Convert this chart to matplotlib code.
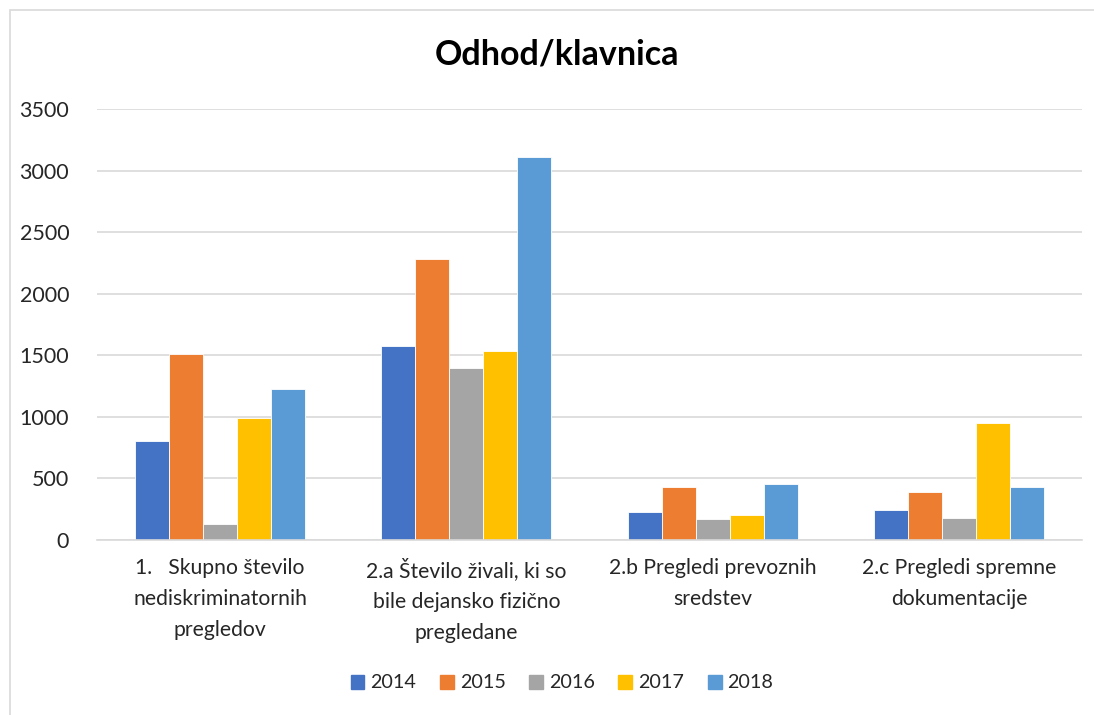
import matplotlib.pyplot as plt
import matplotlib.patches as mpatches
import numpy as np

plt.rcParams["font.family"] = ["Lato", "DejaVu Sans"]

categories = [
    "1.   Skupno število\nnediskriminatornih\npregledov",
    "2.a Število živali, ki so\nbile dejansko fizično\npregledane",
    "2.b Pregledi prevoznih\nsredstev",
    "2.c Pregledi spremne\ndokumentacije",
]
years = ["2014", "2015", "2016", "2017", "2018"]
values = {
    "2014": [800, 1573, 225, 244],
    "2015": [1513, 2279, 433, 387],
    "2016": [133, 1397, 171, 176],
    "2017": [993, 1535, 206, 953],
    "2018": [1229, 3113, 455, 428],
}
colors = ["#4472C4", "#ED7D31", "#A5A5A5", "#FFC000", "#5B9BD5"]

W, H = 1094, 715
fig = plt.figure(figsize=(W / 100, H / 100), dpi=100)
ax = fig.add_axes([97 / W, 1 - 540 / H, (1082 - 97) / W, (540 - 109) / H])

x = np.arange(len(categories))
bw = 0.138
for i, (yr, col) in enumerate(zip(years, colors)):
    ax.bar(x + (i - 2) * bw, values[yr], bw, color=col,
           edgecolor="white", linewidth=0.6, zorder=2, label=yr)

ax.set_xlim(-0.5, len(categories) - 0.5)
ax.set_ylim(0, 3500)
ax.set_yticks(np.arange(0, 3501, 500))
ax.yaxis.grid(True, color="#D9D9D9", linewidth=1.2, zorder=0)
ax.set_axisbelow(True)
for s in ["top", "right", "left"]:
    ax.spines[s].set_visible(False)
ax.spines["bottom"].set_color("#D9D9D9")
ax.spines["bottom"].set_linewidth(1.2)
ax.tick_params(axis="y", length=0, pad=20, labelsize=15.5, labelcolor="#262626")
ax.tick_params(axis="x", length=0, pad=13, labelsize=15.2, labelcolor="#262626")
ax.set_xticks(x)
ax.set_xticklabels(categories, linespacing=1.7, ha="center", va="top")

fig.text(557 / W, 1 - 55 / H, "Odhod/klavnica", ha="center", va="center",
         fontsize=24.5, fontweight="bold", color="black")

handles = [mpatches.Patch(color=c, label=y) for y, c in zip(years, colors)]
fig.legend(handles=handles, loc="center", bbox_to_anchor=(562 / W, 1 - 683 / H),
           ncol=5, frameon=False, fontsize=14.2, handlelength=0.7,
           handleheight=0.7, handletextpad=0.3, columnspacing=1.2,
           labelcolor="#262626")

# chart area border
fig.patches.append(mpatches.Rectangle((10 / W, -0.01), 1.02, 1 - 10 / H + 0.01,
                                      transform=fig.transFigure, fill=False,
                                      edgecolor="#D9D9D9", linewidth=1.2))

fig.savefig("out.png", dpi=100)
